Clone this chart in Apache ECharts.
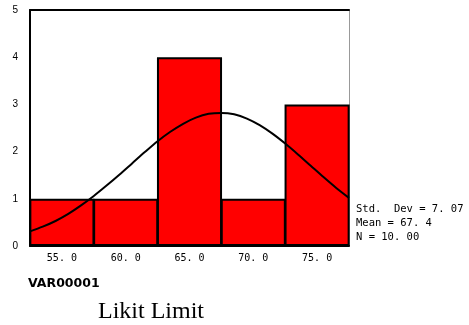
<!DOCTYPE html>
<html><head><meta charset="utf-8">
<script src="https://cdn.jsdelivr.net/npm/echarts@6/dist/echarts.min.js"></script>
<style>html,body{margin:0;padding:0;background:#fff}#c{width:469px;height:325px}</style>
</head><body><div id="c"></div>
<script>
const categories = ['55. 0', '60. 0', '65. 0', '70. 0', '75. 0'];
const counts = [1, 1, 4, 1, 3];
const curveX = [52.5,53.5,54.5,55.5,56.5,57.5,58.5,59.5,60.5,61.5,62.5,63.5,64.5,65.5,66.5,67.5,68.5,69.5,70.5,71.5,72.5,73.5,74.5,75.5,76.5,77.5];
const curveY = [0.31,0.41,0.53,0.68,0.86,1.06,1.28,1.51,1.75,1.99,2.22,2.42,2.59,2.72,2.80,2.82,2.79,2.70,2.56,2.38,2.17,1.94,1.70,1.46,1.23,1.02];
const yTicks = [0, 1, 2, 3, 4, 5];
const statsLines = ['Std.  Dev = 7. 07', 'Mean = 67. 4', 'N = 10. 00'];
const varName = 'VAR00001';
const caption = 'Likit Limit';

const chart = echarts.init(document.getElementById('c'));
chart.setOption({
  animation: false,
  grid: { left: 30, right: 120, top: 10, bottom: 79 },
  xAxis: [
    { type: 'category', data: categories, boundaryGap: true, position: 'bottom',
      axisLine: { lineStyle: { color: '#000', width: 2 } }, axisTick: { show: false },
      axisLabel: { fontFamily: 'DejaVu Sans Mono', fontSize: 10, color: '#000', margin: 7 } },
    { type: 'value', min: 52.5, max: 77.5, position: 'top',
      axisLine: { show: true, onZero: false, lineStyle: { color: '#000', width: 2 } },
      axisTick: { show: false }, axisLabel: { show: false }, splitLine: { show: false } }
  ],
  yAxis: [
    { type: 'value', min: yTicks[0], max: yTicks[yTicks.length - 1], interval: 1,
      axisLine: { show: true, lineStyle: { color: '#000', width: 2 } }, axisTick: { show: false },
      splitLine: { show: false },
      axisLabel: { fontFamily: 'Liberation Sans', fontSize: 10, color: '#000', margin: 12 } },
    { type: 'value', min: 0, max: 5, position: 'right',
      axisLine: { show: true, lineStyle: { color: '#999', width: 1 } }, axisTick: { show: false },
      axisLabel: { show: false }, splitLine: { show: false } }
  ],
  series: [
    { type: 'bar', xAxisIndex: 0, yAxisIndex: 0, data: counts, barWidth: '102%',
      itemStyle: { color: '#ff0000', borderColor: '#000', borderWidth: 2 } },
    { type: 'line', xAxisIndex: 1, yAxisIndex: 0, data: curveX.map((x, i) => [x, curveY[i]]),
      smooth: 0.3, showSymbol: false, lineStyle: { color: '#000', width: 2 } }
  ],
  graphic: [
    ...statsLines.map((t, i) => ({ type: 'text', left: 356, top: 204 + i * 14,
      style: { text: t, fontFamily: 'DejaVu Sans Mono', fontSize: 10.5, fill: '#000' } })),
    { type: 'text', left: 28, top: 277, style: { text: varName, fontFamily: 'DejaVu Sans', fontWeight: 'bold', fontSize: 12.5, fill: '#000' } },
    { type: 'text', left: 98, top: 300, style: { text: caption, fontFamily: 'Liberation Serif', fontSize: 24, fill: '#000' } }
  ]
});
</script></body></html>
